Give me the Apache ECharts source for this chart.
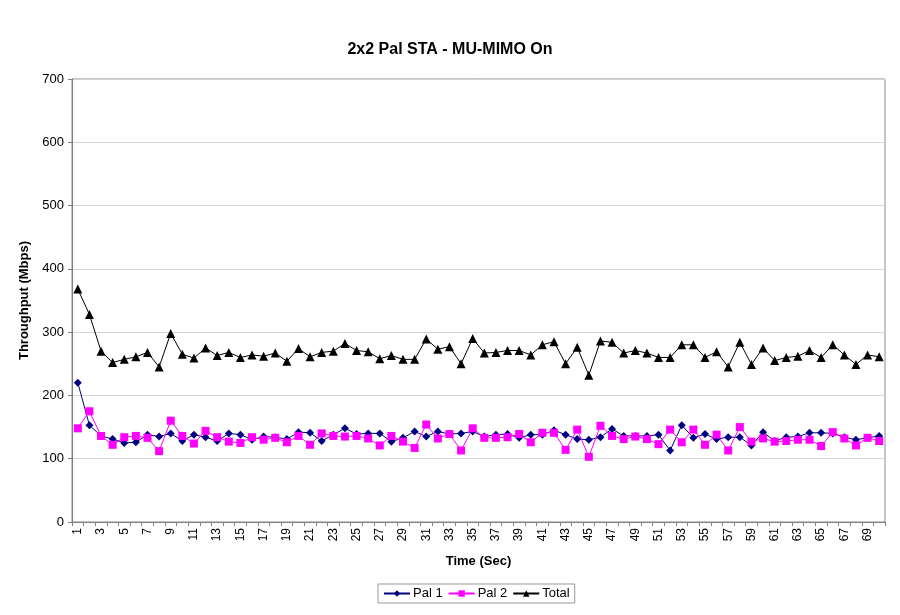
<!DOCTYPE html>
<html>
<head>
<meta charset="utf-8">
<script src="https://cdn.jsdelivr.net/npm/echarts@6/dist/echarts.min.js"></script>
<style>html,body{margin:0;padding:0;background:#fff}#c{width:900px;height:615px}</style>
</head>
<body>
<div id="c"></div>
<script>
var categories = [];
for (var i = 1; i <= 70; i++) categories.push(String(i));

var pal1 = [220,153,136,131,125,126,138,135,140,128,138,134,128,140,138,130,135,134,131,142,
            141,128,138,148,139,140,140,127,133,143,135,143,139,140,143,135,138,139,133,138,
            138,145,138,131,130,134,147,136,136,136,138,113,153,133,139,131,134,134,121,142,
            128,134,135,141,141,140,134,130,133,136];
var pal2 = [148,175,136,122,134,136,133,112,160,136,124,144,134,127,125,134,130,133,126,136,
            122,140,136,135,136,132,121,136,127,117,154,132,139,113,148,133,133,134,139,126,
            141,141,114,146,103,152,136,131,135,131,123,146,126,146,122,138,113,150,127,132,
            127,128,130,130,120,142,132,121,133,128];
var total = [368,328,270,252,257,261,268,245,298,265,259,275,263,268,260,264,262,267,254,274,
             261,268,270,282,271,269,258,263,257,257,289,273,277,250,290,267,268,271,271,264,
             280,285,250,276,232,286,284,267,271,267,260,260,280,280,260,269,245,284,249,275,
             255,260,262,271,260,280,264,249,264,261];

var chart = echarts.init(document.getElementById('c'), null, {renderer: 'canvas'});
var font = 'Liberation Sans, Arial, sans-serif';
chart.setOption({
  animation: false,
  backgroundColor: '#ffffff',
  title: {
    text: '2x2 Pal STA - MU-MIMO On',
    left: 'center', top: 37,
    textStyle: {fontFamily: font, fontSize: 16, fontWeight: 'bold', color: '#000'}
  },
  legend: {
    bottom: 12, left: 378,
    itemWidth: 26, itemHeight: 8, itemGap: 5,
    padding: [3, 5],
    borderColor: '#999', borderWidth: 1,
    textStyle: {fontFamily: font, fontSize: 13, color: '#000', padding: [0, 0, 0, -2]},
    data: ['Pal 1', 'Pal 2', 'Total']
  },
  grid: {left: 72, right: 15, top: 79, bottom: 93, show: true, borderColor: '#8c8c8c', borderWidth: 1},
  xAxis: {
    type: 'category',
    data: categories,
    boundaryGap: true,
    name: 'Time (Sec)',
    nameLocation: 'middle',
    nameGap: 33,
    nameTextStyle: {fontFamily: font, fontSize: 13, fontWeight: 'bold', color: '#000'},
    axisLine: {lineStyle: {color: '#808080'}},
    axisTick: {show: true, interval: 0, length: 4, lineStyle: {color: '#808080'}},
    axisLabel: {interval: 1, rotate: 90, fontFamily: font, fontSize: 12, color: '#000', margin: 6}
  },
  yAxis: {
    type: 'value',
    min: 0, max: 700, interval: 100,
    name: 'Throughput (Mbps)',
    nameLocation: 'middle',
    nameGap: 39,
    nameTextStyle: {fontFamily: font, fontSize: 13, fontWeight: 'bold', color: '#000'},
    axisLine: {show: true, lineStyle: {color: '#808080'}},
    axisTick: {show: true, length: 4, lineStyle: {color: '#808080'}},
    axisLabel: {fontFamily: font, fontSize: 13, color: '#000', margin: 8},
    splitLine: {lineStyle: {color: '#d4d4d4'}}
  },
  series: [
    {name: 'Pal 1', type: 'line', data: pal1, symbol: 'diamond', symbolSize: 8, showAllSymbol: true,
     itemStyle: {color: '#000080'}, lineStyle: {color: '#000080', width: 1}},
    {name: 'Pal 2', type: 'line', data: pal2, symbol: 'rect', symbolSize: 8, showAllSymbol: true,
     itemStyle: {color: '#ff00ff'}, lineStyle: {color: '#ff00ff', width: 1}},
    {name: 'Total', type: 'line', data: total, symbol: 'triangle', symbolSize: 9, showAllSymbol: true,
     itemStyle: {color: '#000000'}, lineStyle: {color: '#000000', width: 1}}
  ]
});
</script>
</body>
</html>
